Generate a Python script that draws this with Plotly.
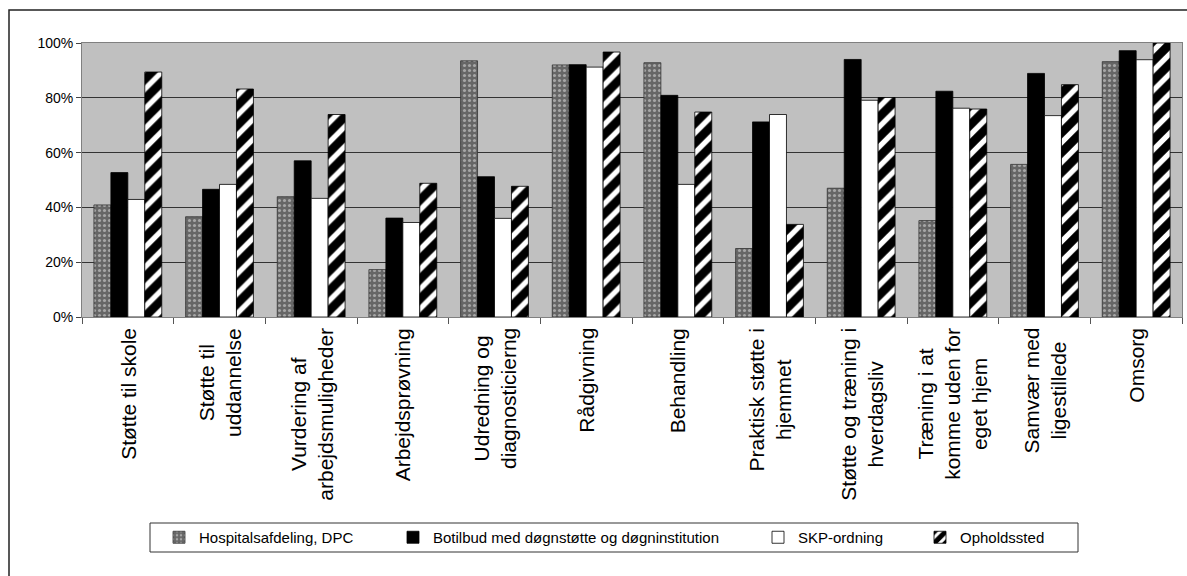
import plotly.graph_objects as go

categories = [
    "Støtte til skole",
    "Støtte til<br>uddannelse",
    "Vurdering af<br>arbejdsmuligheder",
    "Arbejdsprøvning",
    "Udredning og<br>diagnosticierng",
    "Rådgivning",
    "Behandling",
    "Praktisk støtte i<br>hjemmet",
    "Støtte og træning i<br>hverdagsliv",
    "Træning i at<br>komme uden for<br>eget hjem",
    "Samvær med<br>ligestillede",
    "Omsorg",
]

series_names = [
    "Hospitalsafdeling, DPC",
    "Botilbud med døgnstøtte og døgninstitution",
    "SKP-ordning",
    "Opholdssted",
]

hospital = [40.9, 36.6, 43.9, 17.3, 93.5, 92.0, 92.8, 25.0, 47.0, 35.2, 55.7, 93.2]
botilbud = [52.7, 46.6, 57.0, 36.1, 51.2, 92.1, 80.9, 71.2, 94.0, 82.4, 88.9, 97.2]
skp = [42.9, 48.4, 43.3, 34.5, 36.0, 91.2, 48.4, 73.9, 79.1, 76.2, 73.5, 93.9]
opholdssted = [89.4, 83.2, 73.9, 48.8, 47.7, 96.7, 74.8, 33.8, 80.1, 75.9, 84.8, 100.0]

y_ticks = [0, 20, 40, 60, 80, 100]
y_ticklabels = ["0%", "20%", "40%", "60%", "80%", "100%"]

FONT = "Liberation Sans, Arial, sans-serif"

# plot area in pixels
L, T, W, H = 82, 43, 1100, 274


def px_x(p):
    return (p - L) / W


def px_y(p):
    return (T + H - p) / H


styles = [
    dict(pattern=dict(shape=".", bgcolor="#666666", fgcolor="#e6e6e6", size=5, solidity=0.3),
         line=dict(color="#333333", width=0.8)),
    dict(color="#000000", line=dict(color="#000000", width=0.8)),
    dict(color="#ffffff", line=dict(color="#000000", width=0.8)),
    dict(pattern=dict(shape="/", bgcolor="#ffffff", fgcolor="#000000", fgopacity=1,
                      size=14, solidity=0.62),
         line=dict(color="#000000", width=0.8)),
]

data_series = [hospital, botilbud, skp, opholdssted]
legend_ids = ["legend", "legend2", "legend3", "legend4"]
legend_text_px = [199, 433, 798, 960]

fig = go.Figure()
for name, vals, st, lg in zip(series_names, data_series, styles, legend_ids):
    marker = dict(st)
    if "pattern" in marker:
        marker["color"] = marker["pattern"]["bgcolor"]
    fig.add_trace(go.Bar(x=categories, y=vals, name=name, marker=marker,
                         legend=lg, showlegend=True))

legend_y = px_y(537.5)
legend_layouts = {}
for lg, tx in zip(legend_ids, legend_text_px):
    legend_layouts[lg] = dict(
        x=px_x(tx - 40), y=legend_y, xanchor="left", yanchor="middle",
        xref="paper", yref="paper",
        bgcolor="rgba(0,0,0,0)", borderwidth=0,
        font=dict(family=FONT, size=15, color="#000000"),
    )

annotations = []
for c in categories:
    annotations.append(dict(
        x=c, y=0, xref="x", yref="paper", text=c, textangle=-90,
        xanchor="center", yanchor="top", yshift=-9, showarrow=False, align="center",
        font=dict(family=FONT, size=21, color="#000000"),
    ))

shapes = [
    # legend frame
    dict(type="rect", xref="paper", yref="paper",
         x0=px_x(150), x1=px_x(1078), y0=px_y(523), y1=px_y(552),
         line=dict(color="#333333", width=1), fillcolor="rgba(0,0,0,0)", layer="below"),
    # outer chart frame
    dict(type="rect", xref="paper", yref="paper",
         x0=px_x(9), x1=px_x(1200), y0=px_y(10), y1=px_y(600),
         line=dict(color="#222222", width=1.5), fillcolor="rgba(0,0,0,0)", layer="below"),
]

fig.update_layout(
    width=1187, height=576,
    margin=dict(l=L, r=1187 - L - W, t=T, b=576 - T - H, pad=0),
    paper_bgcolor="#ffffff",
    plot_bgcolor="#c0c0c0",
    barmode="group",
    bargap=0.26,
    bargroupgap=0,
    showlegend=True,
    font=dict(family=FONT, size=14, color="#000000"),
    annotations=annotations,
    shapes=shapes,
    **legend_layouts,
)

fig.update_xaxes(
    type="category",
    showticklabels=False,
    ticks="outside", tickson="boundaries", ticklen=6, tickcolor="#555555", tickwidth=1,
    showline=True, linecolor="#808080", linewidth=1, mirror=True,
    showgrid=False, zeroline=False,
)
fig.update_yaxes(
    range=[0, 100],
    tickvals=y_ticks, ticktext=y_ticklabels,
    tickfont=dict(family=FONT, size=14, color="#000000"),
    ticks="outside", ticklen=5, tickcolor="#444444", tickwidth=1,
    showline=True, linecolor="#808080", linewidth=1, mirror=True,
    showgrid=True, gridcolor="#333333", gridwidth=1,
    zeroline=False,
)

fig.write_html(
    "out.html",
    config={"displayModeBar": False},
    post_script="document.body.style.margin='0';document.body.style.padding='0';"
                "document.body.style.overflow='hidden';",
)
